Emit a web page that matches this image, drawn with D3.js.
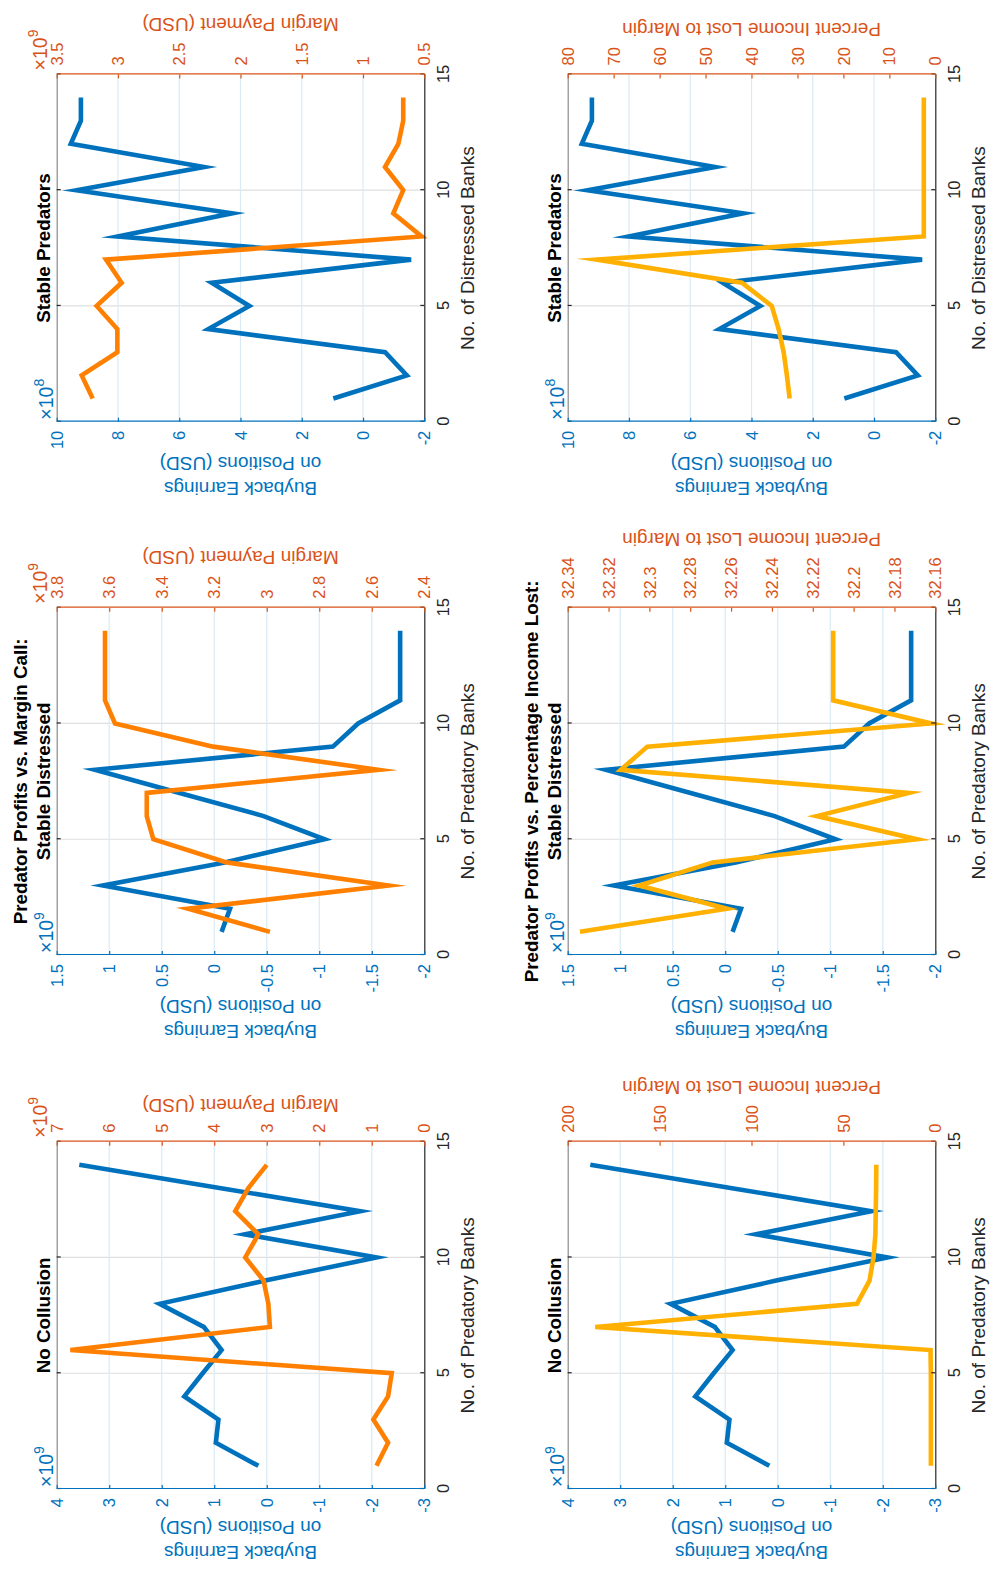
<!DOCTYPE html>
<html><head><meta charset="utf-8">
<script src="https://cdn.jsdelivr.net/npm/d3@7"></script>
<style>
body{margin:0;background:#fff}
svg{display:block}
text{font-family:"Liberation Sans",Arial,Helvetica,sans-serif}
</style>
</head><body>
<svg id="fig" width="1001" height="1574"></svg>
<script>
// ---------------- data ----------------
const banks = [1,2,3,4,5,6,7,8,9,10,11,12,13,14];

// No Collusion (x1e9 USD)
const ncBuyback = [0.16,0.97,0.92,1.57,1.22,0.86,1.2,2.04,0.03,-2.09,0.42,-1.78,0.9,3.57];
const ncMargin  = [0.91,0.69,0.97,0.69,0.62,6.74,2.94,2.97,3.06,3.41,3.16,3.6,3.35,3.0];
const ncPercent = [2.4,2.4,2.4,2.4,2.4,2.6,185,42.6,35.8,33.6,32.6,32.4,32.2,32.1];

// Stable Distressed (x1e9 USD)
const sdBuyback = [-0.07,-0.15,1.06,-0.1,-1.05,-0.47,0.33,1.135,-1.13,-1.37,-1.77,-1.77,-1.77,-1.77];
const sdMargin  = [2.988,3.3,2.537,3.153,3.432,3.457,3.457,2.575,3.204,3.578,3.616,3.616,3.616,3.616];
const sdPercent = [32.334,32.262,32.305,32.269,32.169,32.218,32.173,32.314,32.301,32.162,32.21,32.21,32.21,32.21];

// Stable Predators (buyback x1e8, margin x1e9)
const spBuyback = [0.97,-1.43,-0.72,5.05,3.71,4.94,-1.57,8.01,4.27,9.35,5.19,9.54,9.21,9.21];
const spMargin  = [3.206,3.296,3.005,3.005,3.174,2.97,3.098,0.522,0.753,0.672,0.821,0.712,0.672,0.672];
const spPercent = [31.7,32.3,33.0,34.1,35.6,42.1,73.7,2.5,2.5,2.5,2.5,2.5,2.5,2.5];

// tick values
const xTicks = [0,5,10,15];
const ticksNcLeft = [-3,-2,-1,0,1,2,3,4];
const ticksNcMargin = [0,1,2,3,4,5,6,7];
const ticksNcPercent = [0,50,100,150,200];
const ticksSdLeft = [-2,-1.5,-1,-0.5,0,0.5,1,1.5];
const ticksSdMargin = [2.4,2.6,2.8,3,3.2,3.4,3.6,3.8];
const ticksSdPercent = [32.16,32.18,32.2,32.22,32.24,32.26,32.28,32.3,32.32,32.34];
const ticksSpLeft = [-2,0,2,4,6,8,10];
const ticksSpMargin = [0.5,1,1.5,2,2.5,3,3.5];
const ticksSpPercent = [0,10,20,30,40,50,60,70,80];

const titles = {
  nc: ["No Collusion"],
  sdMargin: ["Predator Profits vs. Margin Call:", "Stable Distressed"],
  sdPercent: ["Predator Profits vs. Percentage Income Lost:", "Stable Distressed"],
  sp: ["Stable Predators"]
};
const xLabelPred = "No. of Predatory Banks";
const xLabelDist = "No. of Distressed Banks";
const leftLabel = ["Buyback Earnings", "on Positions (USD)"];
const rightLabelMargin = "Margin Payment (USD)";
const rightLabelPercent = "Percent Income Lost to Margin";

// ---------------- style ----------------
const BLUE = "#0072BD", AXR = "#D95319", ORANGE = "#FF8000", YELLOW = "#FFB000";
const XAX = "#262626";
const colX = [85, 619, 1152.3], rowY = [56.7, 567.7];
const W = 347.3, H = 367.6;
const TICKF = 16.5, LABF = 19, TITF = 18.8, EXPF = 19.5, SUPF = 14;

const panels = [
  {col:0,row:0,title:titles.nc,xLabel:xLabelPred,L:ncBuyback,Ld:[-3,4],Lt:ticksNcLeft,Lexp:"9",R:ncMargin,Rd:[0,7],Rt:ticksNcMargin,Rexp:"9",Rlab:rightLabelMargin,Rc:ORANGE},
  {col:1,row:0,title:titles.sdMargin,xLabel:xLabelPred,L:sdBuyback,Ld:[-2,1.5],Lt:ticksSdLeft,Lexp:"9",R:sdMargin,Rd:[2.4,3.8],Rt:ticksSdMargin,Rexp:"9",Rlab:rightLabelMargin,Rc:ORANGE},
  {col:2,row:0,title:titles.sp,xLabel:xLabelDist,L:spBuyback,Ld:[-2,10],Lt:ticksSpLeft,Lexp:"8",R:spMargin,Rd:[0.5,3.5],Rt:ticksSpMargin,Rexp:"9",Rlab:rightLabelMargin,Rc:ORANGE},
  {col:0,row:1,title:titles.nc,xLabel:xLabelPred,L:ncBuyback,Ld:[-3,4],Lt:ticksNcLeft,Lexp:"9",R:ncPercent,Rd:[0,200],Rt:ticksNcPercent,Rexp:null,Rlab:rightLabelPercent,Rc:YELLOW},
  {col:1,row:1,title:titles.sdPercent,xLabel:xLabelPred,L:sdBuyback,Ld:[-2,1.5],Lt:ticksSdLeft,Lexp:"9",R:sdPercent,Rd:[32.16,32.34],Rt:ticksSdPercent,Rexp:null,Rlab:rightLabelPercent,Rc:YELLOW},
  {col:2,row:1,title:titles.sp,xLabel:xLabelDist,L:spBuyback,Ld:[-2,10],Lt:ticksSpLeft,Lexp:"8",R:spPercent,Rd:[0,80],Rt:ticksSpPercent,Rexp:null,Rlab:rightLabelPercent,Rc:YELLOW}
];

const svg = d3.select("#fig");
// figure is drawn in its original landscape orientation, then turned 90° CCW
const root = svg.append("g").attr("transform","translate(0,1574) rotate(-90)");

function styleAxis(sel, color){
  sel.select(".domain").attr("stroke", color).attr("stroke-width", 1.2);
  sel.selectAll(".tick line").attr("stroke", color).attr("stroke-width", 1.2);
  sel.selectAll(".tick text").attr("fill", color).style("font-size", TICKF+"px")
     .style("font-family",'"Liberation Sans",Arial,sans-serif');
}

function drawPanel(p){
  const g = root.append("g").attr("transform",`translate(${colX[p.col]},${rowY[p.row]})`);
  const x = d3.scaleLinear().domain([0,15]).range([0,W]);
  const yL = d3.scaleLinear().domain(p.Ld).range([H,0]);
  const yR = d3.scaleLinear().domain(p.Rd).range([H,0]);

  // grid
  g.append("g").selectAll("line").data(xTicks.slice(1,-1)).join("line")
    .attr("x1",d=>x(d)).attr("x2",d=>x(d)).attr("y1",0).attr("y2",H)
    .attr("stroke","#dfdfdf").attr("stroke-width",1.2);
  g.append("g").selectAll("line").data(p.Lt.slice(1,-1)).join("line")
    .attr("x1",0).attr("x2",W).attr("y1",d=>yL(d)).attr("y2",d=>yL(d))
    .attr("stroke","#d9eaf5").attr("stroke-width",1.2);

  // lines
  const lineL = d3.line().x((d,i)=>x(banks[i])).y(d=>yL(d));
  const lineR = d3.line().x((d,i)=>x(banks[i])).y(d=>yR(d));
  g.append("path").datum(p.L).attr("d",lineL).attr("fill","none")
    .attr("stroke",BLUE).attr("stroke-width",4.6).attr("stroke-linejoin","miter").attr("stroke-miterlimit",10);
  g.append("path").datum(p.R).attr("d",lineR).attr("fill","none")
    .attr("stroke",p.Rc).attr("stroke-width",4.6).attr("stroke-linejoin","miter").attr("stroke-miterlimit",10);

  // top edge
  const gt = g.append("g").call(d3.axisTop(x).tickValues(xTicks).tickSize(-4).tickSizeOuter(0).tickFormat(""));
  styleAxis(gt, "#8a8a8a");
  gt.selectAll(".tick line").attr("stroke", XAX);

  // bottom axis
  const gb = g.append("g").attr("transform",`translate(0,${H})`)
    .call(d3.axisBottom(x).tickValues(xTicks).tickSize(-4).tickSizeOuter(0).tickPadding(13.3));
  styleAxis(gb, XAX);

  // left axis
  const gl = g.append("g")
    .call(d3.axisLeft(yL).tickValues(p.Lt).tickSize(-4).tickSizeOuter(0).tickPadding(9).tickFormat(d=>String(d)));
  styleAxis(gl, BLUE);
  gl.selectAll(".tick text").attr("dy","0.34em");
  const lw = d3.max(gl.selectAll(".tick text").nodes(), n=>n.getComputedTextLength());

  // right axis
  const gr = g.append("g").attr("transform",`translate(${W},0)`)
    .call(d3.axisRight(yR).tickValues(p.Rt).tickSize(-4).tickSizeOuter(0).tickPadding(9).tickFormat(d=>String(d)));
  styleAxis(gr, AXR);
  gr.selectAll(".tick text").attr("dy","0.34em");
  const rw = d3.max(gr.selectAll(".tick text").nodes(), n=>n.getComputedTextLength());

  // titles
  const nT = p.title.length;
  p.title.forEach((t,i)=>{
    g.append("text").attr("x",W/2).attr("y",-7 - (nT-1-i)*23)
      .attr("text-anchor","middle").attr("font-weight","bold")
      .style("font-size",TITF+"px").attr("fill","#000").text(t);
  });

  // x label
  g.append("text").attr("x",W/2).attr("y",H+50).attr("text-anchor","middle")
    .style("font-size",LABF+"px").attr("fill",XAX).text(p.xLabel);

  // left label (two lines)
  const lx = -9 - lw - 8;
  [leftLabel[1], leftLabel[0]].forEach((t,i)=>{
    g.append("text").attr("transform",`translate(${lx - i*25},${H/2}) rotate(-90)`)
      .attr("text-anchor","middle").style("font-size",LABF+"px").attr("fill",BLUE).text(t);
  });

  // right label
  const rx = W + 9 + rw + 24.5;
  g.append("text").attr("transform",`translate(${rx},${H/2}) rotate(-90)`)
    .attr("text-anchor","middle").style("font-size",LABF+"px").attr("fill",AXR).text(p.Rlab);

  // exponents
  const el = g.append("text").attr("x",2).attr("y",-4).attr("fill",BLUE).style("font-size",EXPF+"px");
  el.append("tspan").text("\u00d710");
  el.append("tspan").attr("dy",-9).style("font-size",SUPF+"px").text(p.Lexp);
  if(p.Rexp){
    const er = g.append("text").attr("x",W+4).attr("y",-10).attr("fill",AXR).style("font-size",EXPF+"px");
    er.append("tspan").text("\u00d710");
    er.append("tspan").attr("dy",-9).style("font-size",SUPF+"px").text(p.Rexp);
  }
}

panels.forEach(drawPanel);
</script>
</body></html>
